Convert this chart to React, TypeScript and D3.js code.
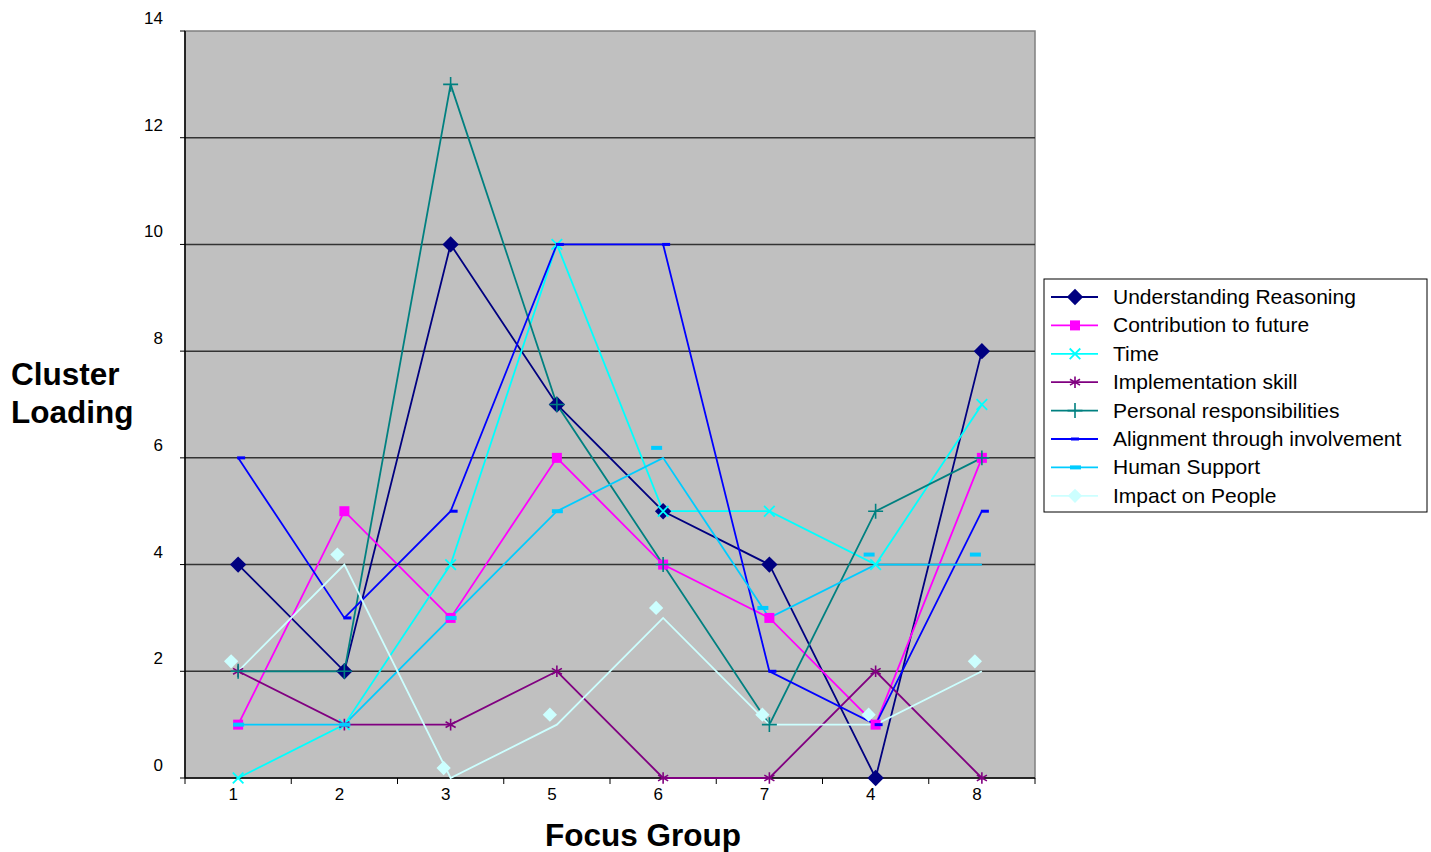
import React from 'react';
import * as d3 from 'd3';

const groups = ['1', '2', '3', '5', '6', '7', '4', '8'];
const yTicks = [0, 2, 4, 6, 8, 10, 12, 14];

const understanding = [4, 2, 10, 7, 5, 4, 0, 8];
const contribution = [1, 5, 3, 6, 4, 3, 1, 6];
const time = [0, 1, 4, 10, 5, 5, 4, 7];
const implementation = [2, 1, 1, 2, 0, 0, 2, 0];
const personal = [2, 2, 13, 7, 4, 1, 5, 6];
const alignment = [6, 3, 5, 10, 10, 2, 1, 5];
const humanSupport = [1, 1, 3, 5, 6, 3, 4, 4];
const impact = [2, 4, 0, 1, 3, 1, 1, 2];

type Marker = 'diamond' | 'smallDiamond' | 'square' | 'x' | 'asterisk' | 'plus' | 'dash' | 'bar';

interface Series {
  name: string;
  values: number[];
  color: string;
  marker: Marker;
  shiftFrom: number; // index from which markers are drawn slightly off the line
}

const series: Series[] = [
  { name: 'Understanding Reasoning', values: understanding, color: '#000080', marker: 'diamond', shiftFrom: 99 },
  { name: 'Contribution to future', values: contribution, color: '#FF00FF', marker: 'square', shiftFrom: 99 },
  { name: 'Time', values: time, color: '#00FFFF', marker: 'x', shiftFrom: 99 },
  { name: 'Implementation skill', values: implementation, color: '#800080', marker: 'asterisk', shiftFrom: 99 },
  { name: 'Personal responsibilities', values: personal, color: '#008080', marker: 'plus', shiftFrom: 99 },
  { name: 'Alignment through involvement', values: alignment, color: '#0000FF', marker: 'dash', shiftFrom: 99 },
  { name: 'Human Support', values: humanSupport, color: '#00CCFF', marker: 'bar', shiftFrom: 4 },
  { name: 'Impact on People', values: impact, color: '#CCFFFF', marker: 'smallDiamond', shiftFrom: 0 },
];

const W = 1431;
const H = 852;
const plot = { left: 185, right: 1035, top: 31, bottom: 778 };
const font = 'Liberation Sans, Arial, sans-serif';

const x = d3.scaleBand<string>().domain(groups).range([plot.left, plot.right]);
const y = d3.scaleLinear().domain([0, 14]).range([plot.bottom, plot.top]);

const MarkerShape: React.FC<{ kind: Marker; color: string; cx: number; cy: number }> = ({ kind, color, cx, cy }) => {
  const t = `translate(${cx},${cy})`;
  if (kind === 'diamond') {
    return <path transform={t} d={d3.symbol(d3.symbolDiamond2, 170)()!} fill={color} />;
  }
  if (kind === 'smallDiamond') {
    return <path transform={t} d={d3.symbol(d3.symbolDiamond2, 130)()!} fill={color} />;
  }
  if (kind === 'square') {
    return <path transform={t} d={d3.symbol(d3.symbolSquare, 100)()!} fill={color} />;
  }
  if (kind === 'x') {
    return <path transform={t} d={d3.symbol(d3.symbolX, 75)()!} fill="none" stroke={color} strokeWidth={1.8} />;
  }
  if (kind === 'asterisk') {
    return <path transform={t} d={d3.symbol(d3.symbolAsterisk, 95)()!} fill="none" stroke={color} strokeWidth={1.6} />;
  }
  if (kind === 'plus') {
    return <path transform={t} d={d3.symbol(d3.symbolPlus, 75)()!} fill="none" stroke={color} strokeWidth={1.6} />;
  }
  if (kind === 'dash') {
    return <rect x={cx - 1} y={cy - 1.5} width={8} height={3} fill={color} />;
  }
  return <rect x={cx - 5} y={cy - 2} width={11} height={4} fill={color} />;
};

export default function App() {
  const cx = (i: number) => (x(groups[i]) ?? 0) + x.bandwidth() / 2;
  const line = d3
    .line<number>()
    .x((_d, i) => cx(i))
    .y((d) => y(d));

  const legend = { x: 1044, y: 279, w: 383, h: 233, row: 28.4 };

  return (
    <svg width={W} height={H} style={{ position: 'absolute', left: 0, top: 0, background: '#fff' }} fontFamily={font}>
      <rect x={plot.left} y={plot.top} width={plot.right - plot.left} height={plot.bottom - plot.top} fill="#C0C0C0" stroke="#808080" strokeWidth={1.5} />

      {yTicks.map((t) => (
        <g key={t}>
          {t > 0 && t < 14 && (
            <line x1={plot.left} x2={plot.right} y1={y(t)} y2={y(t)} stroke="#333" strokeWidth={1.5} />
          )}
          <line x1={plot.left - 5} x2={plot.left} y1={y(t)} y2={y(t)} stroke="#000" strokeWidth={1} />
          <text x={163} y={y(t) - 7} textAnchor="end" fontSize={17} fill="#000">
            {t}
          </text>
        </g>
      ))}

      <line x1={plot.left} x2={plot.left} y1={plot.top} y2={plot.bottom} stroke="#000" strokeWidth={1.5} />
      <line x1={plot.left} x2={plot.right} y1={plot.bottom} y2={plot.bottom} stroke="#000" strokeWidth={1.5} />

      {groups.map((g, i) => (
        <g key={g + i}>
          <line x1={x(g)!} x2={x(g)!} y1={plot.bottom} y2={plot.bottom + 6} stroke="#000" />
          <text x={cx(i) - 5} y={800} textAnchor="middle" fontSize={17} fill="#000">
            {g}
          </text>
        </g>
      ))}
      <line x1={plot.right} x2={plot.right} y1={plot.bottom} y2={plot.bottom + 6} stroke="#000" />

      {series.map((s) => (
        <g key={s.name}>
          <path d={line(s.values)!} fill="none" stroke={s.color} strokeWidth={1.8} />
        </g>
      ))}
      {series.map((s) => (
        <g key={s.name + '-m'}>
          {s.values.map((v, i) => {
            const shifted = i >= s.shiftFrom;
            return (
              <MarkerShape
                key={i}
                kind={s.marker}
                color={s.color}
                cx={cx(i) + (shifted ? -7 : 0)}
                cy={y(v) + (shifted ? -10 : 0)}
              />
            );
          })}
        </g>
      ))}

      <text x={643} y={846} textAnchor="middle" fontSize={31.5} fontWeight="bold" fill="#000">
        Focus Group
      </text>
      <text x={11} y={385} fontSize={31.5} fontWeight="bold" fill="#000">
        Cluster
      </text>
      <text x={11} y={423} fontSize={31.5} fontWeight="bold" fill="#000">
        Loading
      </text>

      <rect x={legend.x} y={legend.y} width={legend.w} height={legend.h} fill="#fff" stroke="#000" strokeWidth={1} />
      {series.map((s, i) => {
        const ry = legend.y + 18 + i * legend.row;
        return (
          <g key={s.name + '-l'}>
            <line x1={1051} x2={1098} y1={ry} y2={ry} stroke={s.color} strokeWidth={1.8} />
            <MarkerShape kind={s.marker} color={s.color} cx={s.marker === 'dash' ? 1072 : 1075} cy={ry} />
            <text x={1113} y={ry + 7} fontSize={21} fill="#000">
              {s.name}
            </text>
          </g>
        );
      })}
    </svg>
  );
}
